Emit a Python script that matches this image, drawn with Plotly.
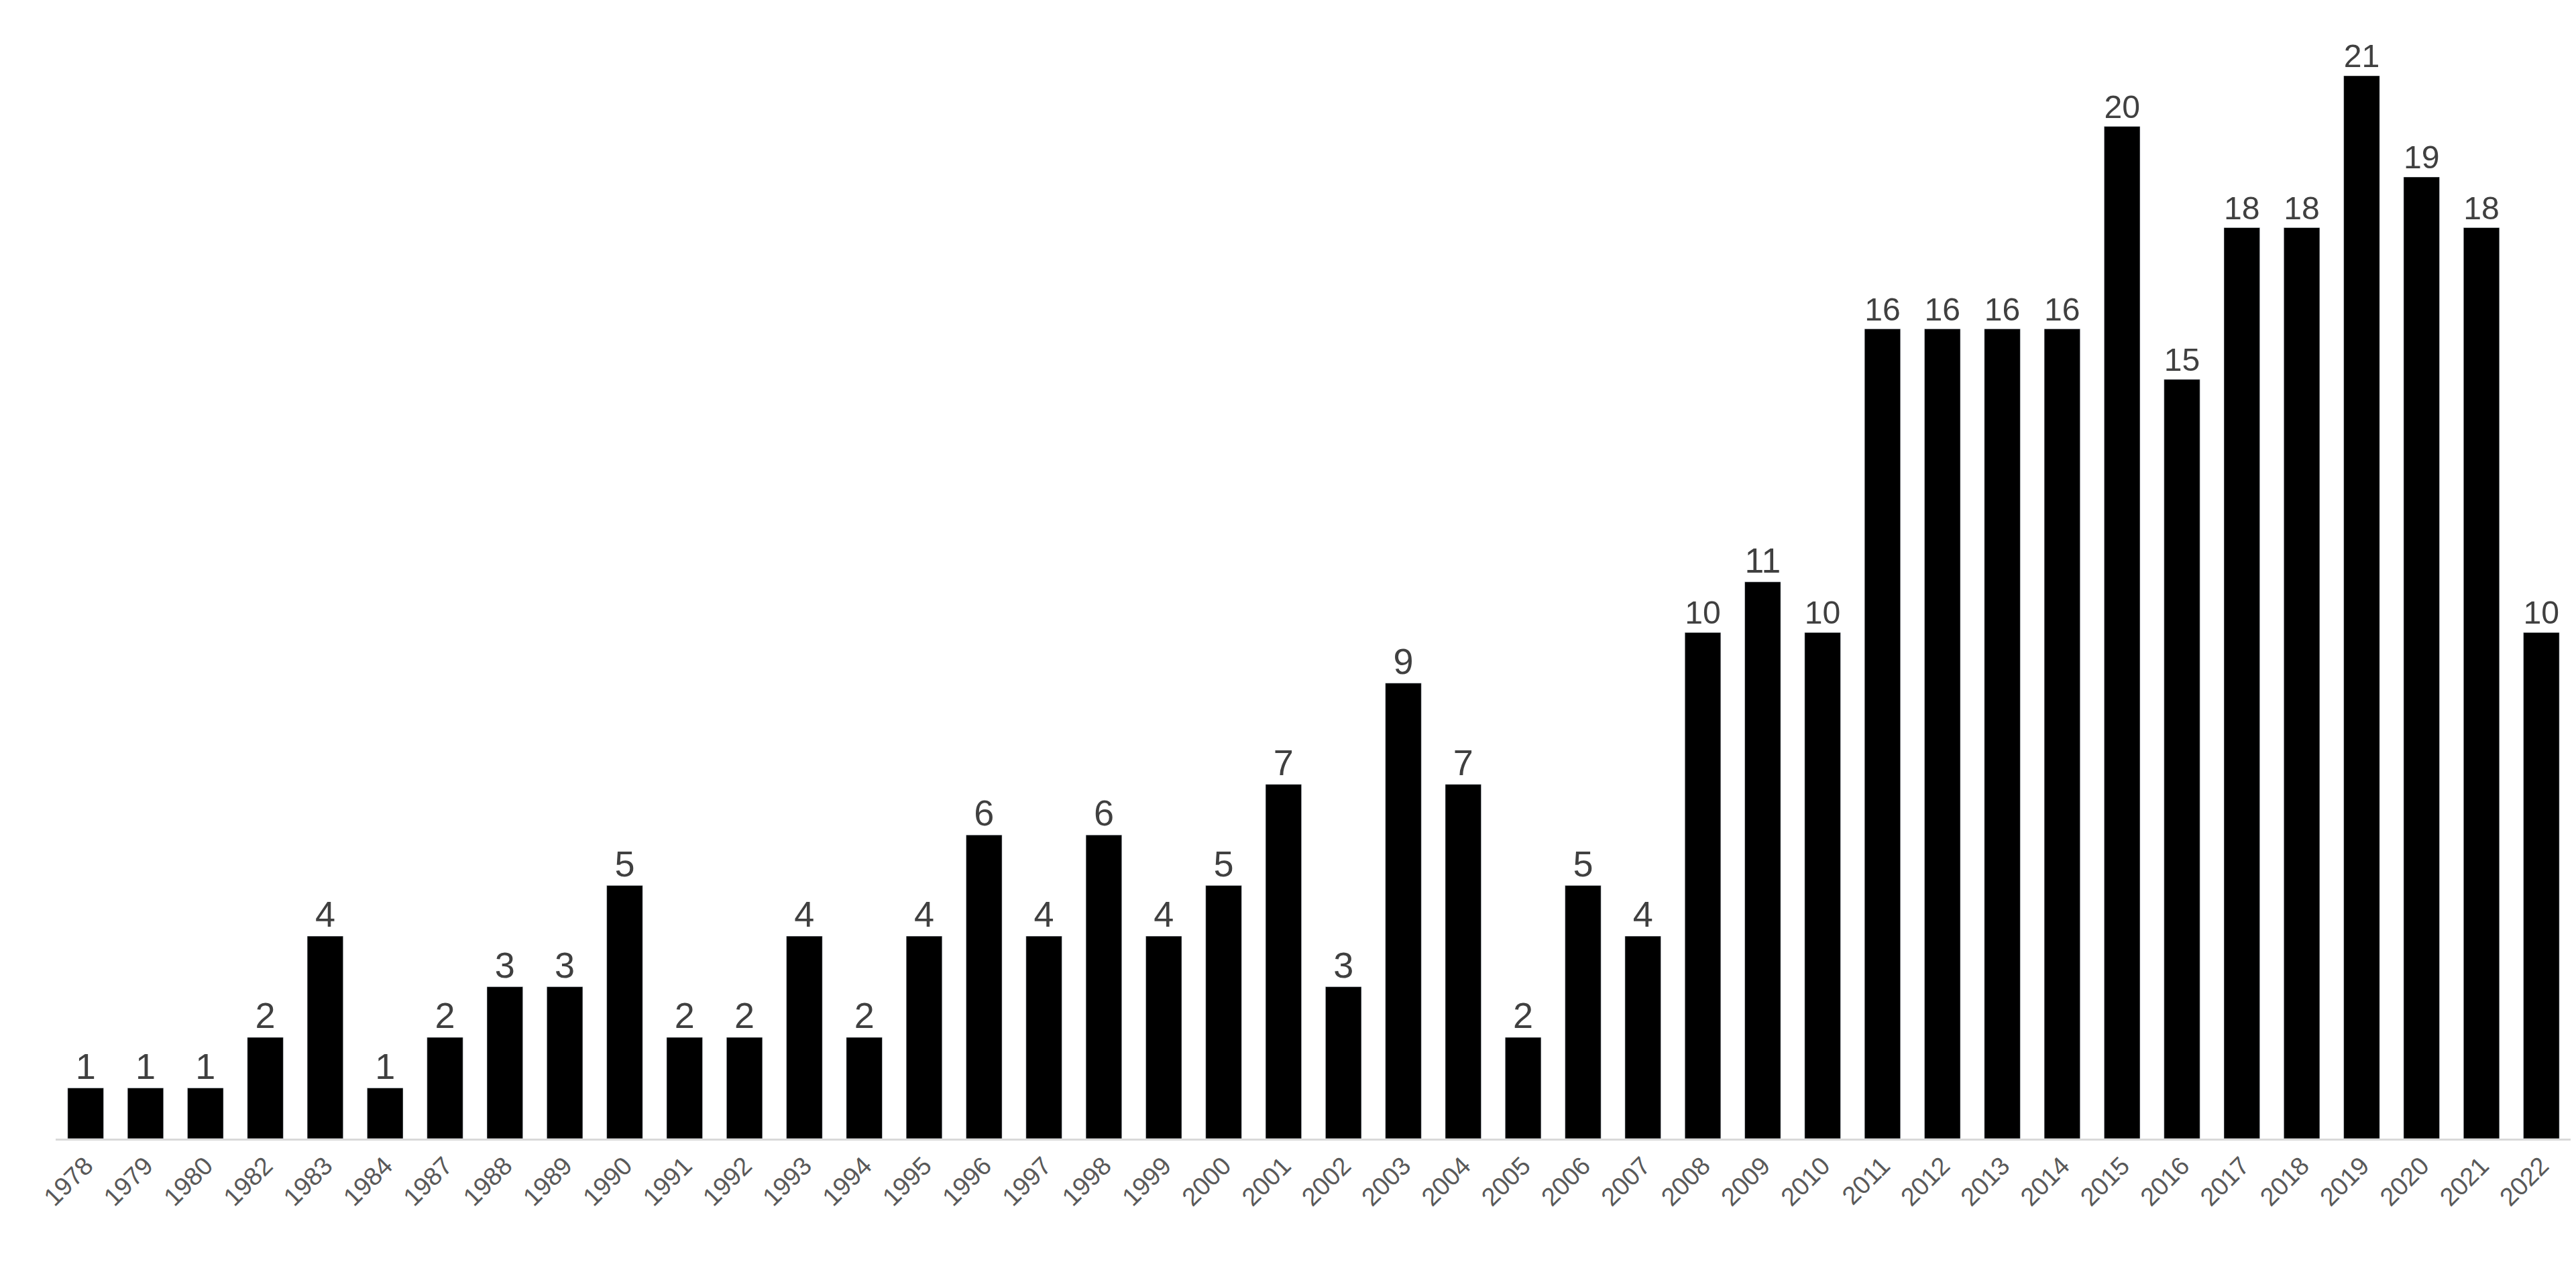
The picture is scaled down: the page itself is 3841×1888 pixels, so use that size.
import plotly.graph_objects as go

years = ["1978","1979","1980","1982","1983","1984","1987","1988","1989","1990","1991","1992","1993","1994","1995","1996","1997","1998","1999","2000","2001","2002","2003","2004","2005","2006","2007","2008","2009","2010","2011","2012","2013","2014","2015","2016","2017","2018","2019","2020","2021","2022"]
counts = [1,1,1,2,4,1,2,3,3,5,2,2,4,2,4,6,4,6,4,5,7,3,9,7,2,5,4,10,11,10,16,16,16,16,20,15,18,18,21,19,18,10]

fig = go.Figure(go.Bar(
    x=years, y=counts, marker_color="black", text=counts, textposition="outside",
    textfont=dict(size=54, color="#404040", family="Arial, Liberation Sans"), cliponaxis=False))
fig.update_layout(
    width=3841, height=1888, paper_bgcolor="white", plot_bgcolor="white",
    margin=dict(l=75, r=15, t=105, b=198), bargap=0.4, showlegend=False,
    font=dict(family="Arial, Liberation Sans", color="#595959"),
    xaxis=dict(type="category", tickangle=-45, tickfont=dict(size=38, color="#595959"),
               showline=True, linecolor="#d9d9d9", linewidth=3, ticks=""),
    yaxis=dict(range=[0, 21], visible=False, showgrid=False),
)
fig.write_html("out.html")
